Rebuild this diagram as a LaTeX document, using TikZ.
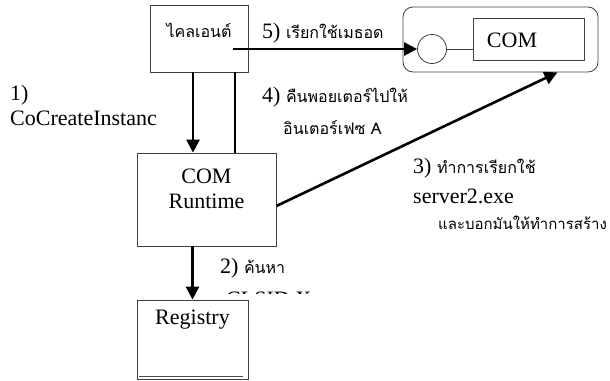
\documentclass[tikz,border=0pt]{standalone}
\usepackage{fontspec}
\setmainfont{Liberation Serif}
\newfontfamily\thaifont[Script=Thai]{Loma}
\usetikzlibrary{arrows.meta,positioning}

\newcommand{\thai}[1]{{\thaifont\fontsize{16}{19}\selectfont #1}}

\tikzset{
  box/.style={draw=black!75, line width=0.8pt, inner sep=0pt},
  flow/.style={line width=2.6pt, -{Triangle[length=13pt,width=13pt]}},
  link/.style={line width=2.6pt},
  lbl/.style={font=\fontsize{22}{25}\selectfont, inner sep=0pt},
}

\begin{document}
\begin{tikzpicture}[x=1pt, y=-1pt]
    \useasboundingbox (0,0) rectangle (610,380);

    % Boxes
    \node[box, minimum width=98pt, minimum height=67pt] (client) at (199,38.5) {};
    \node[lbl] (clientname) at (199,30) {\thai{ไคลเอนต์}};
    \node[box, minimum width=139pt, minimum height=93pt] (runtime) at (206.5,199.5) {};
    \node[lbl, align=center] (runtimename) at (206.5,189) {COM\\Runtime};
    \node[box, minimum width=111pt, minimum height=79pt] (registry) at (192.5,339.5) {};
    \node[lbl] (registryname) at (192.5,320) {Registry};
    \draw[black!70, line width=1.6pt] (139,376.5) -- (243,376.5);

    % Server with interface
    \node[box, rounded corners=10pt, minimum width=195pt, minimum height=65pt] (server) at (500.5,39.5) {};
    \node[box, circle, minimum size=29pt] (iface) at (432,49) {};
    \node[box, minimum width=111pt, minimum height=42pt] (comobj) at (528.5,39) {};
    \node[lbl] (comname) at (512,40) {COM};
    \draw[box] (iface.east) -- (iface.east -| comobj.west);

    % Arrows and flows
    \coordinate (callstart) at (233,49);
    \draw[flow] ([xshift=-6pt]client.south) -- ([xshift=-6pt]client.south |- runtime.north);
    \draw[link] ([xshift=36pt]client.south |- runtime.north) -- ([xshift=36pt]client.south);
    \draw[flow] (callstart) -- (iface);
    \draw[flow] ([yshift=-6.5pt]runtime.east) -- ([xshift=-41pt]server.south east);
    \draw[flow] (registry.north |- runtime.south) -- (registry.north);

    % Labels
    \node[lbl, align=left, anchor=north west] (step1) at (10,85) {1)\\CoCreateInstanc};
    \node[lbl, anchor=west] (step2) at (220,268) {2) \thai{ค้นหา}};
    \begin{scope}
        \clip (220,288) rectangle (340,293);
        \node[lbl, anchor=base west] (clsid) at (226,306) {CLSID X};
    \end{scope}
    \node[lbl, anchor=west] (step3) at (413,168) {3) \thai{ทำการเรียกใช้}};
    \node[lbl, anchor=west] (step3b) at (413,196) {server2.exe};
    \node[lbl, anchor=west] (step3c) at (438,223) {{\thaifont\fontsize{15}{18}\selectfont และบอกมันให้ทำการสร้าง}};
    \node[lbl, anchor=west] (step4) at (262,97) {4) \thai{คืนพอยเตอร์ไปให้}};
    \node[lbl, anchor=west] (step4b) at (283,128) {\thai{อินเตอร์เฟซ A}};
    \node[lbl, anchor=west] (step5) at (262,33) {5) \thai{เรียกใช้เมธอด}};

\end{tikzpicture}
\end{document}
